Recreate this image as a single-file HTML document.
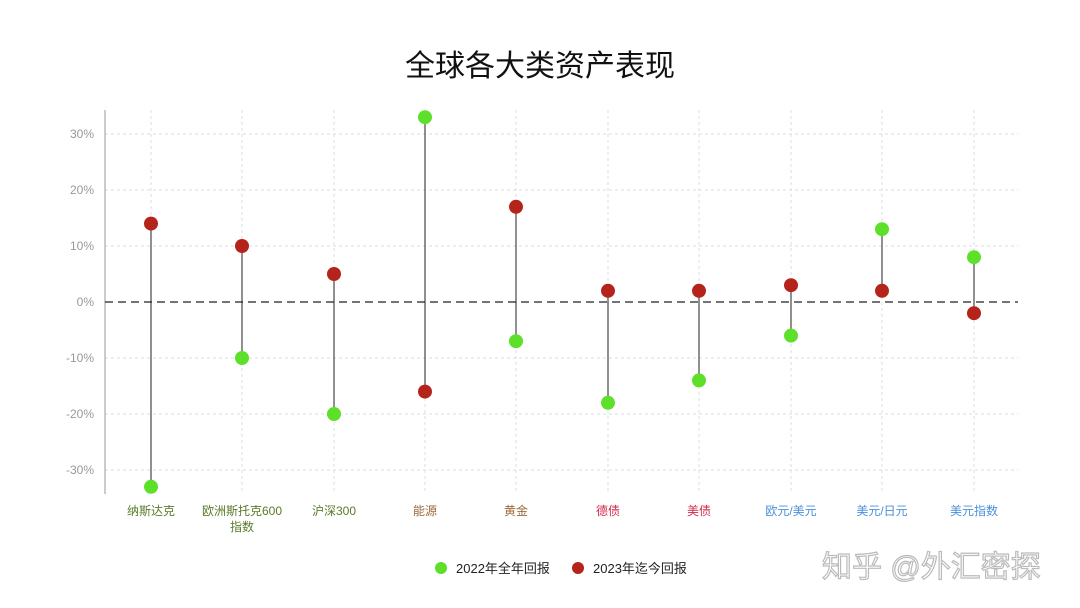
<!DOCTYPE html><html><head><meta charset="utf-8"><style>body{margin:0;background:#fff}svg{display:block}text{font-family:"Liberation Sans","Noto Sans CJK SC",sans-serif}</style></head><body>
<svg width="1080" height="608" viewBox="0 0 1080 608">
<text x="540" y="76" font-size="30" text-anchor="middle" fill="#111">全球各大类资产表现</text>
<g stroke="#ddd" stroke-dasharray="3,3" stroke-width="1">
<line x1="105" x2="1018" y1="134" y2="134"/><line x1="105" x2="1018" y1="190" y2="190"/><line x1="105" x2="1018" y1="246" y2="246"/><line x1="105" x2="1018" y1="358" y2="358"/><line x1="105" x2="1018" y1="414" y2="414"/><line x1="105" x2="1018" y1="470" y2="470"/>
<line x1="151" x2="151" y1="110" y2="494"/><line x1="242" x2="242" y1="110" y2="494"/><line x1="334" x2="334" y1="110" y2="494"/><line x1="425" x2="425" y1="110" y2="494"/><line x1="516" x2="516" y1="110" y2="494"/><line x1="608" x2="608" y1="110" y2="494"/><line x1="699" x2="699" y1="110" y2="494"/><line x1="791" x2="791" y1="110" y2="494"/><line x1="882" x2="882" y1="110" y2="494"/><line x1="974" x2="974" y1="110" y2="494"/>
</g>
<line x1="105" x2="105" y1="110" y2="494" stroke="#999"/>
<g font-size="12" fill="#999" text-anchor="end">
<text x="94" y="138">30%</text><text x="94" y="194">20%</text><text x="94" y="250">10%</text><text x="94" y="306">0%</text><text x="94" y="362">-10%</text><text x="94" y="418">-20%</text><text x="94" y="474">-30%</text></g>
<line x1="105" x2="1018" y1="302" y2="302" stroke="#222" stroke-dasharray="8,5" stroke-width="1.3"/>
<g stroke="#222" stroke-width="1">
<line x1="151" x2="151" y1="486.8" y2="223.6"/><line x1="242" x2="242" y1="358" y2="246"/><line x1="334" x2="334" y1="414" y2="274"/><line x1="425" x2="425" y1="117.2" y2="391.6"/><line x1="516" x2="516" y1="341.2" y2="206.8"/><line x1="608" x2="608" y1="402.8" y2="290.8"/><line x1="699" x2="699" y1="380.4" y2="290.8"/><line x1="791" x2="791" y1="335.6" y2="285.2"/><line x1="882" x2="882" y1="229.2" y2="290.8"/><line x1="974" x2="974" y1="257.2" y2="313.2"/></g>
<g fill="#5ee02a">
<circle cx="151" cy="486.8" r="7"/><circle cx="242" cy="358" r="7"/><circle cx="334" cy="414" r="7"/><circle cx="425" cy="117.2" r="7"/><circle cx="516" cy="341.2" r="7"/><circle cx="608" cy="402.8" r="7"/><circle cx="699" cy="380.4" r="7"/><circle cx="791" cy="335.6" r="7"/><circle cx="882" cy="229.2" r="7"/><circle cx="974" cy="257.2" r="7"/></g>
<g fill="#b5241b">
<circle cx="151" cy="223.6" r="7"/><circle cx="242" cy="246" r="7"/><circle cx="334" cy="274" r="7"/><circle cx="425" cy="391.6" r="7"/><circle cx="516" cy="206.8" r="7"/><circle cx="608" cy="290.8" r="7"/><circle cx="699" cy="290.8" r="7"/><circle cx="791" cy="285.2" r="7"/><circle cx="882" cy="290.8" r="7"/><circle cx="974" cy="313.2" r="7"/></g>
<g font-size="12" text-anchor="middle">
<text x="151" y="515" fill="#5a7a2a">纳斯达克</text><text x="242" y="515" fill="#5a7a2a">欧洲斯托克600</text><text x="242" y="531" fill="#5a7a2a">指数</text><text x="334" y="515" fill="#5a7a2a">沪深300</text>
<text x="425" y="515" fill="#9a6a3a">能源</text><text x="516" y="515" fill="#9a6a3a">黄金</text>
<text x="608" y="515" fill="#d0284a">德债</text><text x="699" y="515" fill="#d0284a">美债</text>
<text x="791" y="515" fill="#4a90d9">欧元/美元</text><text x="882" y="515" fill="#4a90d9">美元/日元</text><text x="974" y="515" fill="#4a90d9">美元指数</text></g>
<circle cx="441" cy="568" r="6" fill="#5ee02a"/><text x="456" y="573" font-size="13" fill="#222">2022年全年回报</text>
<circle cx="578" cy="568" r="6" fill="#b5241b"/><text x="593" y="573" font-size="13" fill="#222">2023年迄今回报</text>
<text x="822" y="577" font-size="30" fill="#fff" stroke="#bbb" stroke-width="1.2">知乎 @外汇密探</text>
</svg></body></html>
